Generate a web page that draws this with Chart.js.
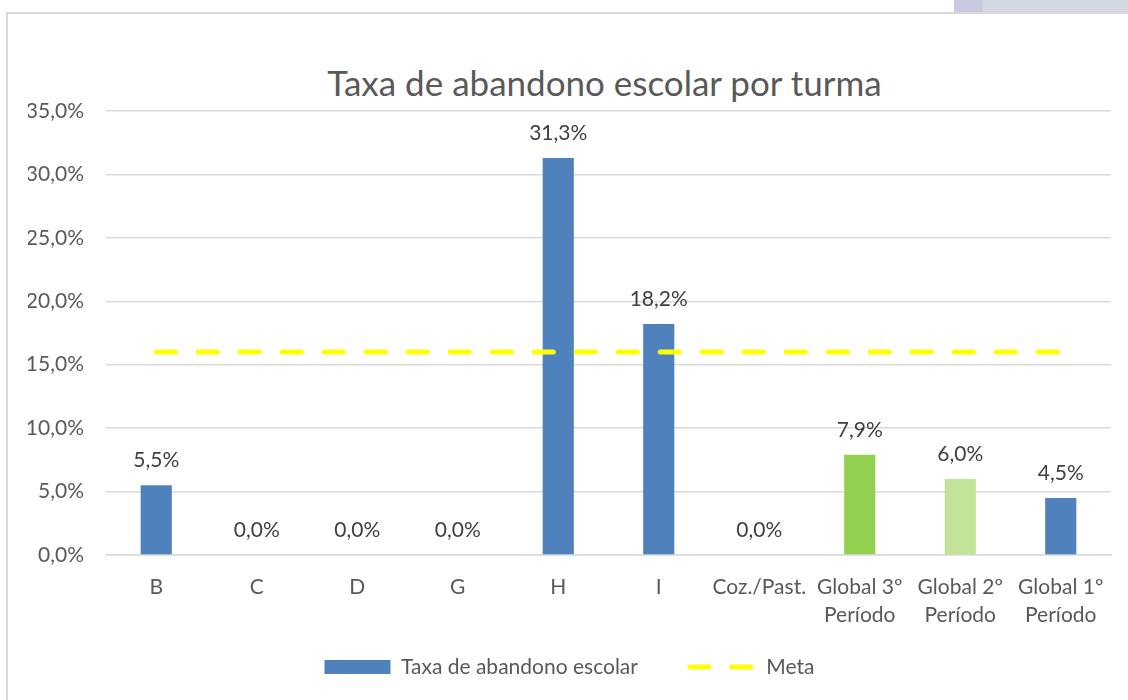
<!DOCTYPE html>
<html>
<head>
<meta charset="utf-8">
<script src="https://cdn.jsdelivr.net/npm/chart.js@4.4.1/dist/chart.umd.min.js"></script>
<style>
  html, body { margin: 0; padding: 0; background: #fff; }
  #wrap { position: relative; width: 1128px; height: 700px; overflow: hidden; }
  #frame { position: absolute; left: 6px; top: 12px; width: 1300px; height: 800px;
           border-left: 2px solid #d9d9d9; border-top: 2px solid #d9d9d9; }
  #corner { position: absolute; left: 954px; top: 0; width: 174px; height: 12px;
            background: linear-gradient(90deg, #c9cadf 0, #c9cadf 28px, #d3d8e3 29px, #d3d8e3 100%); }
  #title { position: absolute; left: 0; width: 1209px; top: 61px; text-align: center;
           font-family: Lato, sans-serif; font-size: 35px; line-height: 42px; color: #595959; }
  canvas { position: absolute; left: 0; top: 0; }
</style>
</head>
<body>
<div id="wrap">
  <div id="corner"></div>
  <div id="frame"></div>
  <div id="title">Taxa de abandono escolar por turma</div>
  <canvas id="grafico" width="1128" height="700"></canvas>
</div>
<script>
// dados
const turmas = ['B', 'C', 'D', 'G', 'H', 'I', 'Coz./Past.',
  ['Global 3º', 'Período'], ['Global 2º', 'Período'], ['Global 1º', 'Período']];
const taxaAbandono = [5.5, 0, 0, 0, 31.3, 18.2, 0, 7.9, 6.0, 4.5];
const meta = [16, 16, 16, 16, 16, 16, 16, 16, 16, 16];
const coresBarras = ['#4f81bd', '#4f81bd', '#4f81bd', '#4f81bd', '#4f81bd', '#4f81bd',
  '#4f81bd', '#92d050', '#c3e398', '#4f81bd'];

const tracoMeta = [19, 23];
const pct = v => v.toFixed(1).replace('.', ',') + '%';

// rótulos de dados por cima das barras
const rotulos = {
  id: 'rotulos',
  afterDatasetsDraw(chart) {
    const ctx = chart.ctx;
    const meta0 = chart.getDatasetMeta(0);
    ctx.save();
    ctx.font = '21px Lato, sans-serif';
    ctx.fillStyle = '#404040';
    ctx.textAlign = 'center';
    ctx.textBaseline = 'middle';
    meta0.data.forEach((bar, i) => {
      ctx.fillText(pct(taxaAbandono[i]), bar.x, bar.y - 25);
    });
    ctx.restore();
  }
};

const ctx = document.getElementById('grafico');
new Chart(ctx, {
  type: 'bar',
  data: {
    labels: turmas,
    datasets: [{
      label: 'Taxa de abandono escolar',
      data: taxaAbandono,
      backgroundColor: coresBarras,
      borderWidth: 0,
      barPercentage: 0.31,
      categoryPercentage: 1,
      pointStyle: 'rect',
      order: 1
    }, {
      type: 'line',
      label: 'Meta',
      data: meta,
      borderColor: '#ffff00',
      backgroundColor: '#ffff00',
      borderWidth: 5,
      borderDash: tracoMeta,
      borderCapStyle: 'round',
      pointRadius: 0,
      pointStyle: 'line',
      order: 0
    }]
  },
  options: {
    responsive: false,
    animation: false,
    layout: { padding: { left: 28, right: 17, top: 111, bottom: 12.5 } },
    plugins: {
      title: { display: false },
      tooltip: { enabled: false },
      legend: {
        position: 'bottom',
        labels: {
          usePointStyle: true,
          pointStyleWidth: 66,
          boxWidth: 66,
          boxHeight: 14,
          padding: 25.5,
          color: '#595959',
          font: { family: 'Lato', size: 21 },
          sort: (a, b) => a.datasetIndex - b.datasetIndex,
          generateLabels: chart => {
            const itens = Chart.defaults.plugins.legend.labels.generateLabels(chart);
            itens.forEach(it => {
              if (it.datasetIndex === 0) {
                it.text += '\u00a0\u00a0\u00a0\u00a0\u00a0';
              }
              if (it.datasetIndex === 1) {
                it.lineDash = tracoMeta;
                it.lineWidth = 5;
                it.lineCap = 'round';
                it.strokeStyle = '#ffff00';
              }
            });
            return itens;
          }
        }
      }
    },
    scales: {
      x: {
        afterFit: s => { s.height = 76; },
        grid: { display: false, drawTicks: false },
        border: { color: '#d9d9d9', width: 1.5 },
        ticks: {
          color: '#595959',
          padding: 18,
          maxRotation: 0,
          autoSkip: false,
          font: { family: 'Lato', size: 21, lineHeight: 1.333 }
        }
      },
      y: {
        min: 0,
        max: 35,
        afterFit: s => { s.width = 78; },
        grid: { color: '#d9d9d9', lineWidth: 1.5, drawTicks: false },
        border: { display: false },
        ticks: {
          stepSize: 5,
          padding: 22,
          color: '#595959',
          font: { family: 'Lato', size: 21 },
          callback: v => pct(v)
        }
      }
    }
  },
  plugins: [rotulos]
});
</script>
</body>
</html>
